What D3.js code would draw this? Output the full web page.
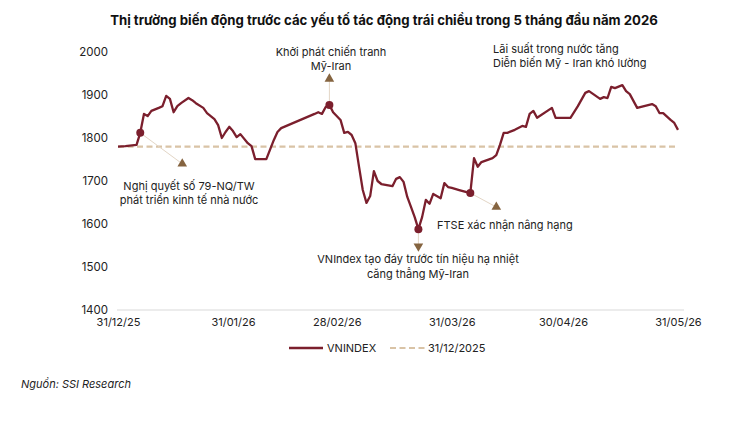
<!DOCTYPE html>
<html>
<head>
<meta charset="utf-8">
<script src="https://cdn.jsdelivr.net/npm/d3@7"></script>
<style>
  body { margin: 0; background: #fff; }
  svg { font-family: Inter, "Noto Sans", sans-serif; }
</style>
</head>
<body>
<div class="chart"></div>
<script>
// VNINDEX daily close
const dates = [
  '2025-12-31', '2026-01-02', '2026-01-05', '2026-01-06', '2026-01-07', '2026-01-08', '2026-01-09',
  '2026-01-11', '2026-01-12', '2026-01-13', '2026-01-14', '2026-01-15', '2026-01-16', '2026-01-17',
  '2026-01-19', '2026-01-20', '2026-01-21', '2026-01-23', '2026-01-24', '2026-01-26', '2026-01-27',
  '2026-01-28', '2026-01-29', '2026-01-30', '2026-01-31', '2026-02-01', '2026-02-02', '2026-02-04',
  '2026-02-05', '2026-02-06', '2026-02-09', '2026-02-11', '2026-02-12', '2026-02-13', '2026-02-22',
  '2026-02-23', '2026-02-24', '2026-02-25', '2026-02-26', '2026-02-27', '2026-03-01', '2026-03-02',
  '2026-03-03', '2026-03-04', '2026-03-05', '2026-03-06', '2026-03-07', '2026-03-08', '2026-03-09',
  '2026-03-10', '2026-03-11', '2026-03-12', '2026-03-15', '2026-03-16', '2026-03-17', '2026-03-18',
  '2026-03-19', '2026-03-20', '2026-03-21', '2026-03-22', '2026-03-23', '2026-03-24', '2026-03-25',
  '2026-03-26', '2026-03-28', '2026-03-29', '2026-03-30', '2026-03-31', '2026-04-02', '2026-04-04',
  '2026-04-05', '2026-04-06', '2026-04-07', '2026-04-08', '2026-04-11', '2026-04-12', '2026-04-13',
  '2026-04-14', '2026-04-15', '2026-04-17', '2026-04-19', '2026-04-20', '2026-04-21', '2026-04-22',
  '2026-04-23', '2026-04-27', '2026-04-28', '2026-05-02', '2026-05-04', '2026-05-06', '2026-05-07',
  '2026-05-10', '2026-05-11', '2026-05-12', '2026-05-13', '2026-05-14', '2026-05-16', '2026-05-17',
  '2026-05-18', '2026-05-20', '2026-05-24', '2026-05-25', '2026-05-26', '2026-05-27', '2026-05-29',
  '2026-05-30', '2026-05-31'
];
const vnindex = [
  1780, 1781, 1784, 1812, 1856, 1851, 1863,
  1870, 1874, 1898, 1891, 1860, 1874, 1881,
  1893, 1888, 1881, 1870, 1858, 1844, 1830,
  1800, 1814, 1826, 1816, 1802, 1809, 1788,
  1781, 1751, 1751, 1795, 1814, 1823, 1856,
  1860, 1856, 1872, 1877, 1860, 1842, 1812,
  1814, 1807, 1788, 1733, 1679, 1649, 1665,
  1723, 1700, 1693, 1688, 1705, 1709, 1698,
  1663, 1640, 1616, 1588, 1616, 1656, 1647,
  1670, 1660, 1695, 1686, 1684, 1679, 1674,
  1672, 1753, 1733, 1744, 1753, 1760, 1784,
  1812, 1812, 1819, 1828, 1826, 1856, 1863,
  1847, 1870, 1847, 1847, 1874, 1905, 1909,
  1891, 1895, 1893, 1919, 1916, 1923, 1909,
  1902, 1870, 1879, 1874, 1858, 1858, 1842,
  1835, 1819
];
const refValue = 1780; // VNINDEX on 31/12/2025
const yTicks = [1400, 1500, 1600, 1700, 1800, 1900, 2000];
const xTickDates = ['2025-12-31', '2026-01-31', '2026-02-28', '2026-03-31', '2026-04-30', '2026-05-31'];
const seriesNames = ['VNINDEX', '31/12/2025'];

const title = 'Thị trường biến động trước các yếu tố tác động trái chiều trong 5 tháng đầu năm 2026';
const source = 'Nguồn: SSI Research';

// annotated points (date of the marker) + text
const notes = [
  { date: '2026-01-06', lines: ['Nghị quyết số 79-NQ/TW', 'phát triển kinh tế nhà nước'] },
  { date: '2026-02-26', lines: ['Khởi phát chiến tranh', 'Mỹ-Iran'] },
  { date: '2026-03-22', lines: ['VNIndex tạo đáy trước tín hiệu hạ nhiệt', 'căng thẳng Mỹ-Iran'] },
  { date: '2026-04-05', lines: ['FTSE xác nhận nâng hạng'] }
];
const extraNote = ['Lãi suất trong nước tăng', 'Diễn biến Mỹ - Iran khó lường'];

const W = 738, H = 439;
const lineColor = '#7b1f2d', refColor = '#d9c3a6', arrowColor = '#856440';

let parse = d3.timeParse('%Y-%m-%d');
let data = dates.map((d, i) => ({ date: parse(d), value: vnindex[i] }));

let svg = d3.select('.chart')
  .append('svg')
    .attr('width', W)
    .attr('height', H);

let x = d3.scaleTime()
  .domain([parse(xTickDates[0]), parse(xTickDates[xTickDates.length - 1])])
  .range([118, 678]);

let y = d3.scaleLinear()
  .domain([1400, 2000])
  .range([310, 52]);

// title
svg.append('text')
  .attr('x', 384)
  .attr('y', 25)
  .attr('text-anchor', 'middle')
  .style('font-size', '13.2px')
  .style('font-weight', 700)
  .attr('fill', '#111')
  .text(title);

// y axis
let yAxis = d3.axisLeft(y)
  .tickValues(yTicks)
  .tickFormat(d3.format('d'))
  .tickSize(0)
  .tickPadding(10);
svg.append('g')
    .attr('transform', 'translate(118, 0)')
  .call(yAxis)
  .call(g => g.select('.domain').remove())
  .selectAll('text')
    .style('font-size', '11.5px')
    .style('font-family', 'Inter, sans-serif')
    .attr('fill', '#222');

// base line at 1400
svg.append('line')
  .attr('x1', 117).attr('x2', 684)
  .attr('y1', y(1400)).attr('y2', y(1400))
  .attr('stroke', '#d9d9d9')
  .attr('stroke-width', 1);

// x axis
let xAxis = d3.axisBottom(x)
  .tickValues(xTickDates.map(parse))
  .tickFormat(d3.timeFormat('%d/%m/%y'))
  .tickSize(0)
  .tickPadding(8);
svg.append('g')
    .attr('transform', `translate(0, ${y(1400)})`)
  .call(xAxis)
  .call(g => g.select('.domain').remove())
  .selectAll('text')
    .style('font-size', '11px')
    .style('font-family', 'Inter, sans-serif')
    .attr('fill', '#222');

// reference dashed line
svg.append('line')
  .attr('x1', x.range()[0]).attr('x2', x.range()[1])
  .attr('y1', y(refValue)).attr('y2', y(refValue))
  .attr('stroke', refColor)
  .attr('stroke-width', 2.2)
  .attr('stroke-dasharray', '6,3.5');

// series
let line = d3.line()
  .x(d => x(d.date))
  .y(d => y(d.value));

svg.append('path')
  .datum(data)
  .attr('fill', 'none')
  .attr('stroke', lineColor)
  .attr('stroke-width', 2.3)
  .attr('stroke-linejoin', 'round')
  .attr('d', line);

// annotations: arrow offset (dx, dy) from marker, triangle rotation, text anchor / position
let noteLayout = [
  { dx: 42, dy: 31, rot: 0, tx: 189, ty: [190, 204], anchor: 'middle' },
  { dx: 0, dy: -26, rot: 0, tx: 331, ty: [56, 70], anchor: 'middle' },
  { dx: 0, dy: 17, rot: 180, tx: 418, ty: [263, 278], anchor: 'middle' },
  { dx: 26, dy: 14, rot: 0, tx: 437, ty: [229], anchor: 'start' }
];

notes.forEach((n, i) => {
  let L = noteLayout[i];
  let d = data.find(p => +p.date === +parse(n.date));
  let px = x(d.date), py = y(d.value);
  let g = svg.append('g');
  g.append('line')
    .attr('x1', px).attr('y1', py)
    .attr('x2', px + L.dx).attr('y2', py + L.dy)
    .attr('stroke', '#e3d6c6')
    .attr('stroke-width', 1);
  g.append('path')
    .attr('d', d3.symbol(d3.symbolTriangle, 40)())
    .attr('transform', `translate(${px + L.dx}, ${py + L.dy}) rotate(${L.rot})`)
    .attr('fill', arrowColor);
  g.append('circle')
    .attr('cx', px).attr('cy', py)
    .attr('r', 4)
    .attr('fill', lineColor);
  n.lines.forEach((t, k) => {
    g.append('text')
      .attr('x', L.tx)
      .attr('y', L.ty[k])
      .attr('text-anchor', L.anchor)
      .style('font-size', '11px')
      .attr('fill', '#222')
      .text(t);
  });
});

extraNote.forEach((t, k) => {
  svg.append('text')
    .attr('x', 493)
    .attr('y', 53 + k * 14)
    .style('font-size', '11px')
    .attr('fill', '#222')
    .text(t);
});

// legend
let legend = svg.append('g');
legend.append('line')
  .attr('x1', 289).attr('x2', 323).attr('y1', 348).attr('y2', 348)
  .attr('stroke', lineColor).attr('stroke-width', 2.3);
legend.append('text')
  .attr('x', 327).attr('y', 352)
  .style('font-size', '11px').attr('fill', '#222')
  .text(seriesNames[0]);
legend.append('line')
  .attr('x1', 390).attr('x2', 425).attr('y1', 348).attr('y2', 348)
  .attr('stroke', refColor).attr('stroke-width', 2.2)
  .attr('stroke-dasharray', '6,3.5');
legend.append('text')
  .attr('x', 428).attr('y', 352)
  .style('font-size', '11px').attr('fill', '#222')
  .text(seriesNames[1]);

// source
svg.append('text')
  .attr('x', 21).attr('y', 388)
  .style('font-size', '11px')
  .style('font-style', 'italic')
  .attr('fill', '#222')
  .text(source);
</script>
</body>
</html>
